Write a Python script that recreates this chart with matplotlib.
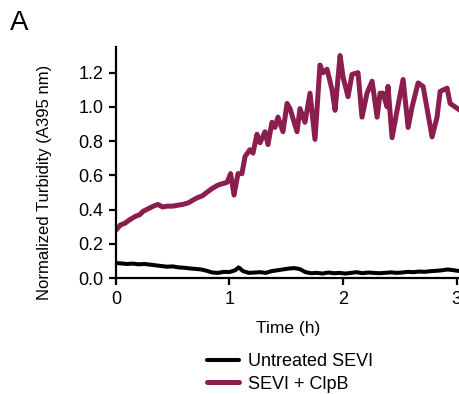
import matplotlib
matplotlib.use("Agg")
import matplotlib.pyplot as plt

plt.rcParams['font.family'] = ['Liberation Sans', 'DejaVu Sans']

# SEVI + ClpB (time in h, normalized turbidity)
clpb_t = [0.00, 0.04, 0.08, 0.12, 0.17, 0.21, 0.24, 0.27, 0.30, 0.33, 0.37, 0.41,
          0.45, 0.50, 0.54, 0.59, 0.64, 0.68, 0.72, 0.76, 0.80, 0.84, 0.89, 0.93,
          0.96, 0.98, 1.01, 1.04, 1.075, 1.11, 1.137, 1.18, 1.207, 1.242, 1.269,
          1.313, 1.339, 1.374, 1.40, 1.427, 1.471, 1.507, 1.533, 1.595, 1.621,
          1.665, 1.709, 1.753, 1.797, 1.824, 1.859, 1.903, 1.93, 1.974, 2.00,
          2.044, 2.079, 2.132, 2.167, 2.211, 2.256, 2.30, 2.326, 2.352, 2.388,
          2.396, 2.432, 2.476, 2.529, 2.573, 2.608, 2.661, 2.705, 2.74, 2.784,
          2.828, 2.855, 2.916, 2.943, 2.987, 3.03]
clpb_v = [0.28, 0.31, 0.32, 0.34, 0.36, 0.37, 0.39, 0.40, 0.41, 0.42, 0.43, 0.415,
          0.42, 0.42, 0.425, 0.43, 0.44, 0.456, 0.47, 0.48, 0.50, 0.52, 0.54, 0.55,
          0.555, 0.56, 0.61, 0.485, 0.61, 0.61, 0.71, 0.75, 0.73, 0.84, 0.79,
          0.855, 0.78, 0.91, 0.88, 0.94, 0.855, 1.02, 0.99, 0.855, 0.99,
          0.91, 1.08, 0.81, 1.245, 1.20, 1.22, 1.10, 0.98, 1.30, 1.175,
          1.06, 1.19, 1.20, 0.94, 1.08, 1.15, 0.94, 1.08, 1.08, 1.00,
          1.12, 0.82, 0.98, 1.16, 0.88, 1.00, 1.14, 1.12, 0.99, 0.825,
          0.94, 1.09, 1.11, 1.02, 1.00, 0.98]

# Untreated SEVI
sevi_t = [0.00, 0.05, 0.10, 0.15, 0.20, 0.25, 0.30, 0.35, 0.40, 0.45, 0.50, 0.55,
          0.60, 0.65, 0.70, 0.75, 0.80, 0.85, 0.90, 0.95, 1.00, 1.05, 1.08, 1.12,
          1.17, 1.22, 1.27, 1.32, 1.37, 1.42, 1.47, 1.52, 1.57, 1.62, 1.67, 1.72,
          1.77, 1.82, 1.87, 1.92, 1.97, 2.02, 2.07, 2.12, 2.17, 2.22, 2.27, 2.32,
          2.37, 2.42, 2.47, 2.52, 2.57, 2.62, 2.67, 2.72, 2.77, 2.82, 2.87, 2.92,
          2.97, 3.03]
sevi_v = [0.088, 0.085, 0.082, 0.084, 0.080, 0.082, 0.078, 0.074, 0.070, 0.066, 0.068, 0.062,
          0.060, 0.056, 0.053, 0.050, 0.042, 0.032, 0.030, 0.036, 0.035, 0.045, 0.062, 0.040,
          0.030, 0.032, 0.034, 0.030, 0.040, 0.045, 0.050, 0.055, 0.058, 0.052, 0.034, 0.028,
          0.030, 0.026, 0.032, 0.028, 0.030, 0.026, 0.030, 0.034, 0.028, 0.032, 0.030, 0.028,
          0.030, 0.033, 0.030, 0.032, 0.036, 0.034, 0.038, 0.036, 0.040, 0.042, 0.045, 0.050,
          0.046, 0.040]

fig = plt.figure(figsize=(4.6, 3.94), dpi=100)
ax = fig.add_axes([0.252, 0.2944, 0.748, 0.5863])

ax.plot(sevi_t, sevi_v, color='black', lw=2.9, label='Untreated SEVI',
        solid_joinstyle='round', solid_capstyle='round')
ax.plot(clpb_t, clpb_v, color='#8C1D4F', lw=3.6, label='SEVI + ClpB',
        solid_joinstyle='round', solid_capstyle='round')

ax.set_xlim(0, 3.03)
ax.set_ylim(0, 1.35)
ax.set_xticks([0, 1, 2, 3])
ax.set_yticks([0.0, 0.2, 0.4, 0.6, 0.8, 1.0, 1.2])
ax.set_yticklabels(['0.0', '0.2', '0.4', '0.6', '0.8', '1.0', '1.2'])
ax.spines['top'].set_visible(False)
ax.spines['right'].set_visible(False)
for s in ['left', 'bottom']:
    ax.spines[s].set_linewidth(1.6)
ax.tick_params(direction='out', length=5, width=1.6, labelsize=13, pad=4)
ax.set_xlabel('Time (h)', fontsize=12.5, labelpad=10)
ax.set_ylabel('Normalized Turbidity (A395 nm)', fontsize=12)
ax.yaxis.set_label_coords(-0.186, 0.416)

fig.text(0.022, 0.975, 'A', fontsize=20, va='top', ha='left')

fig.legend(loc='upper center', bbox_to_anchor=(0.63, 0.145), frameon=False,
           fontsize=13, handlelength=1.8, handletextpad=0.45, labelspacing=0.3)

fig.savefig('out.png', dpi=100)
